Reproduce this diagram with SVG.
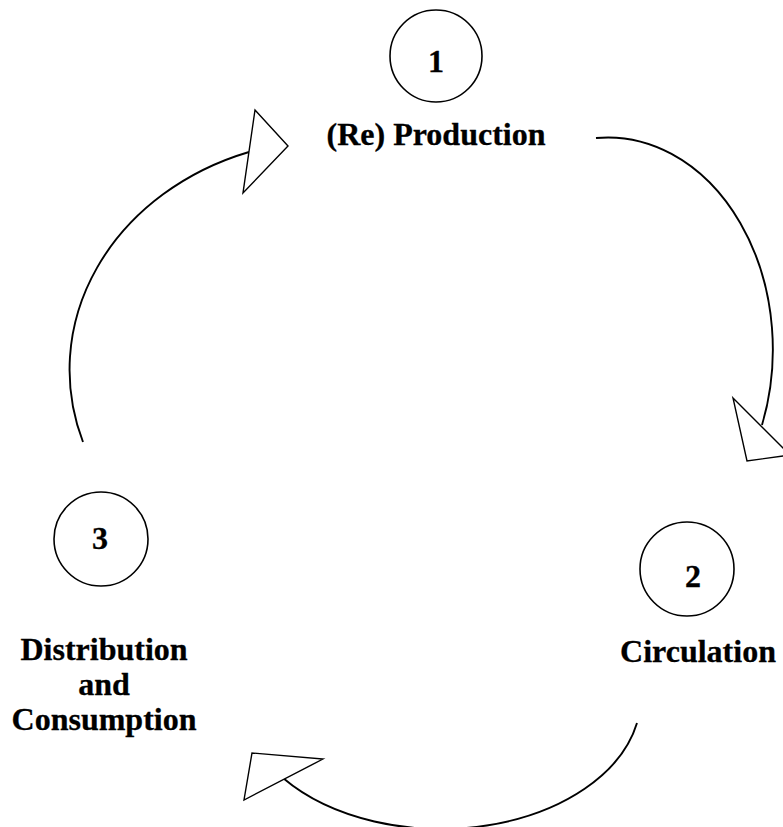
<svg xmlns="http://www.w3.org/2000/svg" width="783" height="827" viewBox="0 0 783 827">
<style>
.bg{fill:#ffffff}
.node circle{fill:none;stroke:#000;stroke-width:1.6}
.t{font-family:"Liberation Serif","Times New Roman",serif;font-weight:bold;font-size:32px;fill:#000;stroke:#000;stroke-width:0.3;text-anchor:middle}
.curve{fill:none;stroke:#000;stroke-width:1.9}
.head{fill:#fff;stroke:#000;stroke-width:1.4;stroke-linejoin:miter}
</style>
<rect class="bg" x="0" y="0" width="783" height="827"/>
<g id="connectors">
<path class="curve" d="M83,442 A265,230 0 0 1 249,152"/>
<polygon class="head" points="255,110 288,146 243,193"/>
<path class="curve" d="M596,138 A165,212 0 0 1 762,425"/>
<polygon class="head" points="733,398 790,455 747,461"/>
<path class="curve" d="M637,723 A200,132 0 0 1 283,778"/>
<polygon class="head" points="323,759 244,800 252,753"/>
</g>
<g id="node1" class="node">
<circle cx="436" cy="56" r="46"/>
<text class="t" x="436" y="72">1</text>
<text class="t" x="436" y="145">(Re) Production</text>
</g>
<g id="node2" class="node">
<circle cx="687" cy="569" r="47"/>
<text class="t" x="693" y="587">2</text>
<text class="t" x="698" y="662">Circulation</text>
</g>
<g id="node3" class="node">
<circle cx="101" cy="539" r="47"/>
<text class="t" x="100" y="549">3</text>
<text class="t" x="104" y="660">Distribution</text>
<text class="t" x="104" y="695">and</text>
<text class="t" x="104" y="730">Consumption</text>
</g>
</svg>
